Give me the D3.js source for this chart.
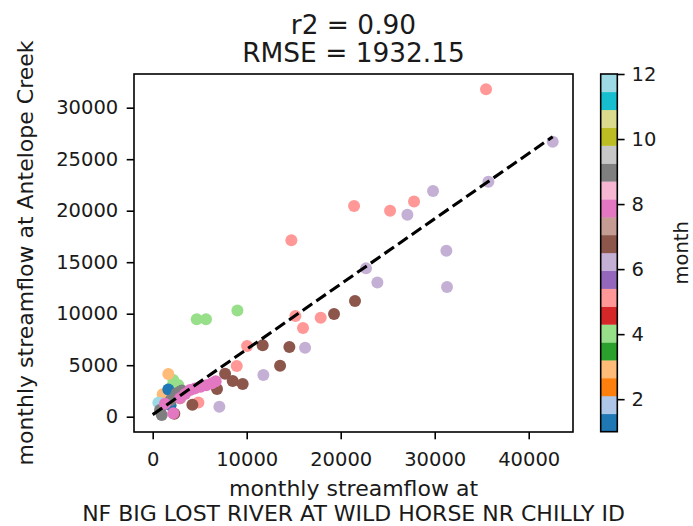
<!DOCTYPE html>
<html>
<head>
<meta charset="utf-8">
<script src="https://cdn.jsdelivr.net/npm/d3@7"></script>
<style>
  html, body { margin: 0; padding: 0; background: #fff; }
  svg { display: block; font-family: "DejaVu Sans", sans-serif; }
</style>
</head>
<body>
<svg id="chart" width="693" height="526"></svg>
<script>
// Monthly streamflow pairs: x = NF Big Lost River, y = Antelope Creek, with month of year
const flowX = [
  35460, 21420, 14750, 25250, 27800, 15180, 15990, 17870, 10040, 8940, 4860,
  42550, 35710, 29820, 27090, 31240, 31310, 22690, 23900, 16210, 11770, 7090,
  21520, 19290, 11700, 14540, 13550, 7700, 8510, 9570, 6840, 4220, 2300,
  4680, 5670, 9010, 2190, 2720, 2010, 1310,
  1660, 1060, 1350,
  1660, 1900, 900, 2400, 600, 2900,
  960, 780, 1900, 2550, 2900, 3100,
  2190, 1300, 2900, 3440, 3970, 4500, 5100, 5700, 6300, 6700
];
const flowY = [
  31780, 20450, 17120, 20000, 20900, 9770, 8610, 9610, 6860, 4920, 1390,
  26700, 22810, 21910, 19610, 16120, 12590, 14400, 13040, 6700, 4045, 970,
  11230, 9970, 6930, 6760, 4950, 4170, 3460, 3170, 2690, 1165, 280,
  9450, 9450, 10320, 3560, 3080, 2900, 1360,
  4150, 2170, 1650,
  2650, 1100, 1300, 1900, 1350, 1800,
  160, 650, 1600, 2270, 2430, 2550,
  330, 1250, 1800, 2200, 2600, 2750, 2900, 3050, 3250, 3450
];
const flowMonth = [
  5, 5, 5, 5, 5, 5, 5, 5, 5, 5, 5,
  6, 6, 6, 6, 6, 6, 6, 6, 6, 6, 6,
  7, 7, 7, 7, 7, 7, 7, 7, 7, 7, 7,
  4, 4, 4, 4, 4, 4, 4,
  3, 3, 3,
  1, 1, 2, 11, 12, 10,
  9, 9, 9, 9, 9, 9,
  8, 8, 8, 8, 8, 8, 8, 8, 8, 8
];
// Fitted line (slope, intercept)
const fitSlope = 0.634;
const fitIntercept = 200;

const titleLines = ["r2 = 0.90", "RMSE = 1932.15"];
const xLabelLines = ["monthly streamflow at", "NF BIG LOST RIVER AT WILD HORSE NR CHILLY ID"];
const yLabel = "monthly streamflow at Antelope Creek";
const cbarLabel = "month";
const xTicks = [0, 10000, 20000, 30000, 40000];
const yTicks = [0, 5000, 10000, 15000, 20000, 25000, 30000];
const cbarTicks = [2, 4, 6, 8, 10, 12];
const tab20 = ["#1f77b4", "#aec7e8", "#ff7f0e", "#ffbb78", "#2ca02c", "#98df8a", "#d62728", "#ff9896",
  "#9467bd", "#c5b0d5", "#8c564b", "#c49c94", "#e377c2", "#f7b6d2", "#7f7f7f", "#c7c7c7",
  "#bcbd22", "#dbdb8d", "#17becf", "#9edae5"];

const svg = d3.select("#chart");
const plot = { left: 134, right: 573, top: 74, bottom: 432 };
const tickFont = 19.5, labelFont = 22, titleFont = 26.4;
const textColor = "#1a1a1a";

const x = d3.scaleLinear().domain([-1990, 44710]).range([plot.left, plot.right]);
const y = d3.scaleLinear().domain([-1485, 33270]).range([plot.bottom, plot.top]);

// colour: month mapped onto 20 discrete bands between 1 and 12
const cnorm = d3.scaleLinear().domain([1, 12]).range([0, 1]);
const monthColor = m => tab20[Math.min(19, Math.floor(cnorm(m) * 20))];

// points
const pts = flowX.map((v, i) => ({ x: v, y: flowY[i], m: flowMonth[i] }));
svg.append("g").selectAll("circle").data(pts).join("circle")
  .attr("cx", d => x(d.x)).attr("cy", d => y(d.y)).attr("r", 6)
  .attr("fill", d => monthColor(d.m));

// fitted dashed line across the observed x range
const xMax = d3.max(flowX);
const fitPts = [0, xMax].map(v => [x(v), y(fitSlope * v + fitIntercept)]);
svg.append("path").attr("d", d3.line()(fitPts))
  .attr("fill", "none").attr("stroke", "#000").attr("stroke-width", 3.1)
  .attr("stroke-dasharray", "11.6,5");

// axes
const xAxis = svg.append("g").attr("transform", `translate(0,${plot.bottom})`)
  .call(d3.axisBottom(x).tickValues(xTicks).tickFormat(d3.format("d")).tickSizeOuter(0).tickSize(7.3).tickPadding(13));
const yAxis = svg.append("g").attr("transform", `translate(${plot.left},0)`)
  .call(d3.axisLeft(y).tickValues(yTicks).tickFormat(d3.format("d")).tickSizeOuter(0).tickSize(7.3).tickPadding(8.5));
[xAxis, yAxis].forEach(a => {
  a.select(".domain").remove();
  a.selectAll(".tick line").attr("stroke", "#000").attr("stroke-width", 1.6);
  a.selectAll(".tick text").attr("fill", textColor).style("font-size", tickFont + "px")
    .style("font-family", "DejaVu Sans");
});

// frame
svg.append("rect").attr("x", plot.left).attr("y", plot.top)
  .attr("width", plot.right - plot.left).attr("height", plot.bottom - plot.top)
  .attr("fill", "none").attr("stroke", "#000").attr("stroke-width", 1.6);

// title
svg.append("g").selectAll("text").data(titleLines).join("text")
  .attr("x", (plot.left + plot.right) / 2).attr("y", (d, i) => 33.5 + i * 28.5)
  .attr("text-anchor", "middle").attr("fill", textColor).style("font-size", titleFont + "px")
  .text(d => d);

// x label
svg.append("g").selectAll("text").data(xLabelLines).join("text")
  .attr("x", (plot.left + plot.right) / 2).attr("y", (d, i) => 496 + i * 24.5)
  .attr("text-anchor", "middle").attr("fill", textColor).style("font-size", labelFont + "px")
  .text(d => d);

// y label
svg.append("text")
  .attr("transform", `translate(33,${(plot.top + plot.bottom) / 2}) rotate(-90)`)
  .attr("text-anchor", "middle").attr("fill", textColor).style("font-size", labelFont + "px")
  .text(yLabel);

// colour bar
const cb = { left: 600.7, right: 617.3, top: 74, bottom: 431.7 };
const cy = d3.scaleLinear().domain([1, 12]).range([cb.bottom, cb.top]);
const bands = d3.range(20).map(i => ({ lo: 1 + i * 11 / 20, hi: 1 + (i + 1) * 11 / 20, c: tab20[i] }));
svg.append("g").selectAll("rect").data(bands).join("rect")
  .attr("x", cb.left).attr("width", cb.right - cb.left)
  .attr("y", d => cy(d.hi)).attr("height", d => cy(d.lo) - cy(d.hi) + 0.3)
  .attr("fill", d => d.c);
svg.append("rect").attr("x", cb.left).attr("y", cb.top)
  .attr("width", cb.right - cb.left).attr("height", cb.bottom - cb.top)
  .attr("fill", "none").attr("stroke", "#000").attr("stroke-width", 1.6);
const cAxis = svg.append("g").attr("transform", `translate(${cb.right},0)`)
  .call(d3.axisRight(cy).tickValues(cbarTicks).tickFormat(d3.format("d")).tickSizeOuter(0).tickSize(7.3).tickPadding(7));
cAxis.select(".domain").remove();
cAxis.selectAll(".tick line").attr("stroke", "#000").attr("stroke-width", 1.6);
cAxis.selectAll(".tick text").attr("fill", textColor).style("font-size", tickFont + "px")
  .style("font-family", "DejaVu Sans");
svg.append("text")
  .attr("transform", `translate(688,${(cb.top + cb.bottom) / 2}) rotate(-90)`)
  .attr("text-anchor", "middle").attr("fill", textColor).style("font-size", tickFont + "px")
  .text(cbarLabel);
</script>
</body>
</html>
